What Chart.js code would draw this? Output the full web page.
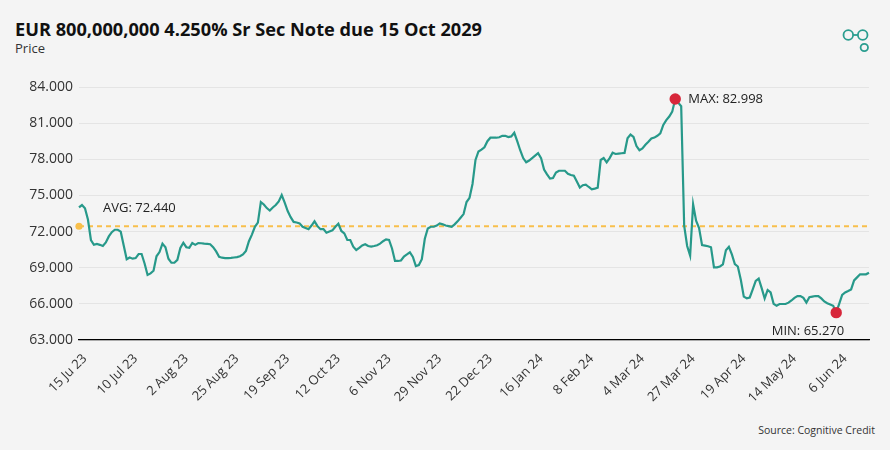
<!DOCTYPE html>
<html>
<head>
<meta charset="utf-8">
<script src="https://cdn.jsdelivr.net/npm/chart.js@4.4.0/dist/chart.umd.min.js"></script>
<style>
  html, body { margin: 0; padding: 0; background: #f4f4f4; }
  #wrap { position: relative; width: 890px; height: 450px; overflow: hidden; font-family: "Open Sans", sans-serif; }
  #titulo { position: absolute; left: 15px; top: 17px; font-size: 18.2px; font-weight: 700; color: #111; white-space: nowrap; }
  #subtitulo { position: absolute; left: 15px; top: 39px; font-size: 13px; color: #333; }
  #fonte { position: absolute; right: 15px; top: 423px; font-size: 10.5px; color: #333; }
  #logo { position: absolute; left: 838px; top: 25px; }
  canvas { position: absolute; left: 0; top: 0; }
</style>
</head>
<body>
<div id="wrap">
  <div id="titulo">EUR 800,000,000 4.250% Sr Sec Note due 15 Oct 2029</div>
  <div id="subtitulo">Price</div>
  <svg id="logo" width="40" height="35" viewBox="0 0 40 35">
    <g fill="none" stroke="#2a9d8f" stroke-width="1.8">
      <circle cx="10.3" cy="10" r="4.8"/>
      <circle cx="24.7" cy="10" r="4.8"/>
      <circle cx="26.3" cy="22.5" r="3.7"/>
      <line x1="15" y1="10" x2="20" y2="10"/>
    </g>
  </svg>
  <div id="fonte">Source: Cognitive Credit</div>
  <canvas id="grafico" width="890" height="450"></canvas>
</div>
<script>
// Rótulos do eixo x (um a cada 17 pregões)
const tickLabels = ["15 Ju 23", "10 Jul 23", "2 Aug 23", "25 Aug 23", "19 Sep 23", "12 Oct 23", "6 Nov 23", "29 Nov 23",
  "22 Dec 23", "16 Jan 24", "8 Feb 24", "4 Mar 24", "27 Mar 24", "19 Apr 24", "14 May 24", "6 Jun 24"];
const primeiroTick = 2;
const passoTick = 17;

// Preço diário
const precos = [
  74.0, 74.2, 73.93, 73.0, 71.3, 70.9, 70.97, 70.9, 70.8, 71.1,
  71.6, 71.95, 72.15, 72.15, 71.99, 70.85, 69.7, 69.85, 69.75, 69.8,
  70.14, 70.14, 69.35, 68.4, 68.53, 68.75, 69.95, 70.3, 71.0, 70.7,
  69.75, 69.41, 69.41, 69.65, 70.65, 71.07, 70.7, 70.65, 71.05, 70.9,
  71.05, 71.03, 71.0, 70.98, 70.95, 70.7, 70.35, 69.9, 69.83, 69.8,
  69.8, 69.82, 69.85, 69.88, 69.95, 70.1, 70.4, 71.2, 71.75, 72.4,
  72.75, 74.45, 74.25, 73.95, 73.75, 74.0, 74.2, 74.5, 75.03, 74.4,
  73.7, 73.2, 72.8, 72.75, 72.68, 72.4, 72.3, 72.2, 72.5, 72.85,
  72.45, 72.2, 72.2, 71.9, 72.0, 72.1, 72.4, 72.65, 72.05, 71.85,
  71.3, 71.3, 70.75, 70.47, 70.65, 70.85, 70.95, 70.8, 70.75, 70.8,
  70.87, 71.0, 71.2, 71.35, 71.3, 70.6, 69.56, 69.56, 69.6, 69.93,
  70.1, 70.28, 69.9, 69.14, 69.22, 69.7, 71.4, 72.25, 72.4, 72.4,
  72.5, 72.68, 72.6, 72.5, 72.45, 72.4, 72.6, 72.85, 73.15, 73.45,
  74.45, 74.8, 75.95, 77.95, 78.65, 78.8, 79.0, 79.5, 79.79, 79.79,
  79.79, 79.83, 79.95, 79.95, 79.85, 79.9, 80.2, 79.5, 78.75, 78.1,
  77.75, 77.9, 78.1, 78.3, 78.5, 78.1, 77.15, 76.75, 76.4, 76.45,
  76.9, 77.05, 77.05, 77.05, 76.8, 76.7, 76.63, 76.15, 75.65, 75.85,
  75.9, 75.7, 75.51, 75.57, 75.64, 77.94, 78.1, 77.75, 78.1, 78.55,
  78.44, 78.47, 78.5, 78.53, 79.75, 80.05, 79.85, 79.1, 78.75, 78.9,
  79.2, 79.45, 79.72, 79.8, 79.95, 80.15, 80.85, 81.25, 81.55, 81.95,
  82.998, 82.7, 82.4, 72.5, 70.8, 70.0, 74.26, 72.9, 72.3, 70.88,
  70.83, 70.78, 70.7, 69.03, 69.03, 69.1, 69.28, 70.45, 70.74, 70.1,
  69.3, 69.1, 68.0, 66.6, 66.46, 66.53, 67.2, 67.9, 68.1, 67.3,
  66.45, 67.15, 66.95, 66.0, 65.85, 65.99, 65.99, 65.99, 66.1, 66.28,
  66.5, 66.65, 66.65, 66.5, 66.1, 66.55, 66.6, 66.65, 66.65, 66.45,
  66.2, 66.05, 65.95, 65.84, 65.27, 66.0, 66.75, 66.95, 67.07, 67.2,
  67.95, 68.2, 68.45, 68.45, 68.45, 68.58
];

const media = 72.44;
const eixoMin = 63;
const eixoMax = 84;
const eixoPasso = 3;

const rotulos = precos.map((p, i) => {
  const k = i - primeiroTick;
  if (k < 0 || k % passoTick !== 0) return "";
  return tickLabels[k / passoTick] || "";
});

// Linha da média, pontos de máximo/mínimo e textos
const anotacoes = {
  id: "anotacoes",
  beforeDatasetsDraw(chart) {
    const { ctx, chartArea, scales } = chart;
    const y = scales.y.getPixelForValue(media);
    ctx.save();
    ctx.strokeStyle = "#f8bf4b";
    ctx.lineWidth = 2;
    ctx.setLineDash([5, 4]);
    ctx.beginPath();
    ctx.moveTo(chartArea.left, y);
    ctx.lineTo(chartArea.right, y);
    ctx.stroke();
    ctx.restore();
  },
  afterDatasetsDraw(chart) {
    const { ctx, chartArea, scales } = chart;
    const meta = chart.getDatasetMeta(0);
    const maxV = Math.max(...precos);
    const minV = Math.min(...precos);
    const pMax = meta.data[precos.indexOf(maxV)];
    const pMin = meta.data[precos.indexOf(minV)];
    const yMedia = scales.y.getPixelForValue(media);

    ctx.save();
    ctx.fillStyle = "#f8bf4b";
    ctx.beginPath();
    ctx.arc(chartArea.left, yMedia, 3.6, 0, Math.PI * 2);
    ctx.fill();

    ctx.fillStyle = "#d7263a";
    [pMax, pMin].forEach(p => {
      ctx.beginPath();
      ctx.arc(p.x, p.y, 5.7, 0, Math.PI * 2);
      ctx.fill();
    });

    ctx.fillStyle = "#222";
    ctx.font = '13px "Open Sans"';
    ctx.textBaseline = "middle";
    ctx.textAlign = "left";
    ctx.fillText("AVG: " + media.toFixed(3), chartArea.left + 24, yMedia - 18);
    ctx.fillText("MAX: " + maxV.toFixed(3), pMax.x + 13, pMax.y);
    ctx.textAlign = "right";
    ctx.fillText("MIN: " + minV.toFixed(3), pMin.x + 8, pMin.y + 19);
    ctx.restore();
  }
};

const ctx = document.getElementById("grafico").getContext("2d");
new Chart(ctx, {
  type: "line",
  data: {
    labels: rotulos,
    datasets: [{
      data: precos,
      borderColor: "#27998a",
      borderWidth: 2.2,
      pointRadius: 0,
      tension: 0,
      fill: false
    }]
  },
  options: {
    responsive: false,
    animation: false,
    layout: { padding: { top: 87, right: 21, left: 0, bottom: 0 } },
    plugins: {
      legend: { display: false },
      tooltip: { enabled: false }
    },
    scales: {
      x: {
        grid: { display: false },
        border: { display: true, color: "#000", width: 1.2 },
        ticks: {
          autoSkip: false,
          minRotation: 45,
          maxRotation: 45,
          color: "#333",
          font: { family: "Open Sans", size: 13 }
        },
        afterFit(s) { s.height = 110; }
      },
      y: {
        min: eixoMin,
        max: eixoMax,
        border: { display: false },
        grid: { color: "#e4e4e4", drawTicks: false },
        ticks: {
          stepSize: eixoPasso,
          padding: 6,
          color: "#333",
          font: { family: "Open Sans", size: 14 },
          callback: v => v.toFixed(3)
        },
        afterFit(s) { s.width = 79; }
      }
    }
  },
  plugins: [anotacoes]
});
</script>
</body>
</html>
